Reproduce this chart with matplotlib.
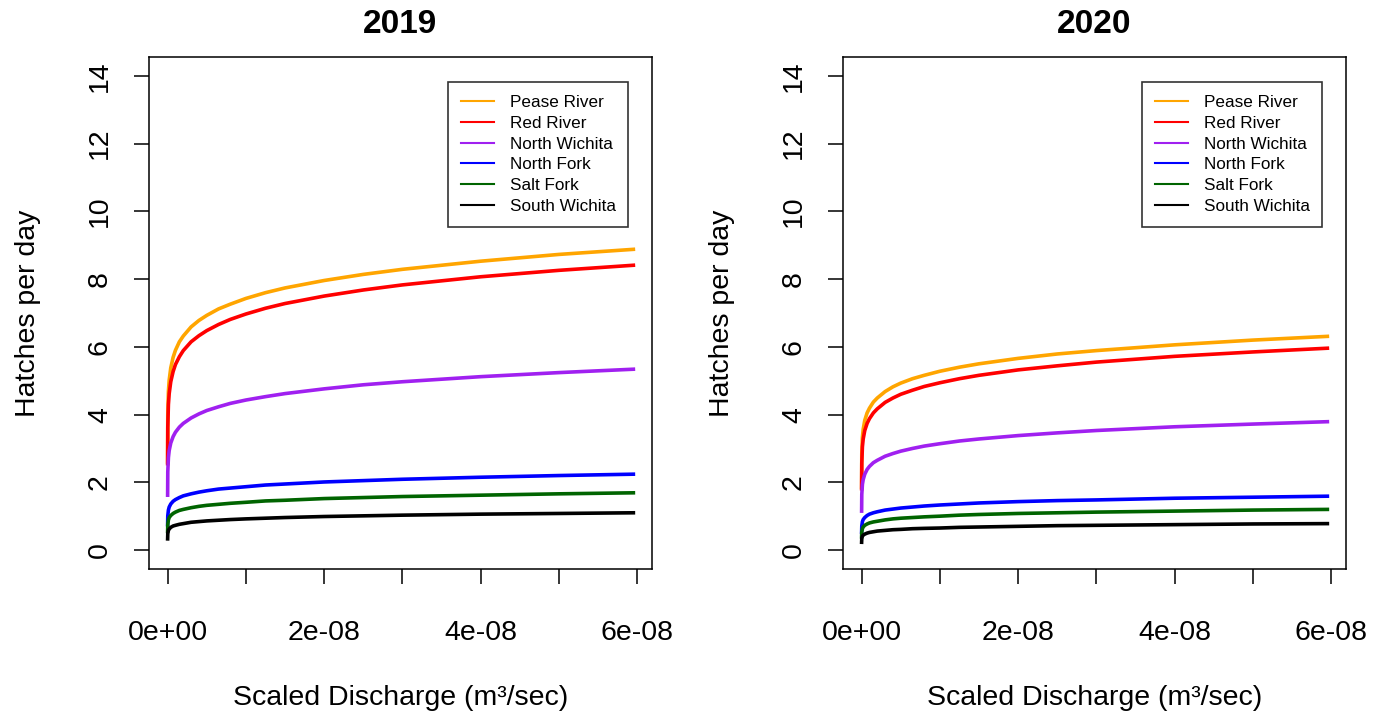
import numpy as np
import matplotlib
matplotlib.use("Agg")
import matplotlib.pyplot as plt
from matplotlib.lines import Line2D

plt.rcParams['font.family'] = ['Liberation Sans', 'DejaVu Sans']

# scaled discharge (x 1e-8 m3/sec)
discharge = np.array([0, 0.002, 0.01, 0.02, 0.04, 0.07, 0.1, 0.15, 0.2, 0.3, 0.4, 0.5,
                      0.65, 0.8, 1.0, 1.25, 1.5, 2, 2.5, 3, 4, 5, 5.95]) * 1e-8

rivers = ["Pease River", "Red River", "North Wichita", "North Fork", "Salt Fork", "South Wichita"]
colors = ["#FFA500", "#FF0000", "#A020F0", "#0000FF", "#006400", "#000000"]

pease_2019 = [2.60, 3.99, 4.69, 5.02, 5.38, 5.69, 5.90, 6.15, 6.32, 6.59, 6.78, 6.93,
              7.12, 7.26, 7.43, 7.60, 7.74, 7.96, 8.14, 8.29, 8.53, 8.73, 8.88]
red_2019 = [2.55, 3.63, 4.30, 4.62, 4.97, 5.27, 5.48, 5.71, 5.89, 6.15, 6.33, 6.48,
            6.66, 6.81, 6.97, 7.14, 7.28, 7.50, 7.68, 7.83, 8.07, 8.26, 8.41]
nwichita_2019 = [1.62, 2.31, 2.73, 2.94, 3.16, 3.35, 3.48, 3.63, 3.74, 3.90, 4.02, 4.12,
                 4.23, 4.33, 4.43, 4.53, 4.62, 4.76, 4.88, 4.97, 5.12, 5.24, 5.34]
nfork_2019 = [0.75, 1.01, 1.18, 1.27, 1.36, 1.44, 1.49, 1.55, 1.60, 1.66, 1.71, 1.75,
              1.80, 1.83, 1.87, 1.92, 1.95, 2.01, 2.05, 2.09, 2.15, 2.20, 2.24]
salt_2019 = [0.55, 0.76, 0.89, 0.96, 1.02, 1.08, 1.12, 1.17, 1.20, 1.25, 1.29, 1.32,
             1.35, 1.38, 1.41, 1.45, 1.47, 1.52, 1.55, 1.58, 1.62, 1.66, 1.69]
swichita_2019 = [0.33, 0.49, 0.58, 0.62, 0.67, 0.71, 0.73, 0.76, 0.78, 0.82, 0.84, 0.86,
                 0.88, 0.90, 0.92, 0.94, 0.96, 0.99, 1.01, 1.03, 1.06, 1.08, 1.10]

pease_2020 = [1.85, 2.84, 3.33, 3.57, 3.83, 4.05, 4.19, 4.37, 4.49, 4.68, 4.82, 4.93,
              5.06, 5.16, 5.28, 5.40, 5.50, 5.66, 5.79, 5.89, 6.06, 6.20, 6.31]
red_2020 = [1.81, 2.57, 3.05, 3.28, 3.53, 3.74, 3.88, 4.05, 4.17, 4.36, 4.49, 4.60,
            4.72, 4.83, 4.94, 5.06, 5.16, 5.32, 5.44, 5.55, 5.72, 5.85, 5.96]
nwichita_2020 = [1.15, 1.64, 1.94, 2.08, 2.24, 2.38, 2.47, 2.58, 2.65, 2.77, 2.85, 2.92,
                 3.00, 3.07, 3.14, 3.22, 3.28, 3.38, 3.46, 3.53, 3.64, 3.72, 3.79]
nfork_2020 = [0.53, 0.71, 0.84, 0.90, 0.96, 1.02, 1.06, 1.10, 1.13, 1.18, 1.21, 1.24,
              1.27, 1.30, 1.33, 1.36, 1.39, 1.43, 1.46, 1.48, 1.53, 1.56, 1.59]
salt_2020 = [0.39, 0.54, 0.63, 0.68, 0.73, 0.77, 0.80, 0.83, 0.85, 0.89, 0.92, 0.94,
             0.96, 0.98, 1.00, 1.03, 1.05, 1.08, 1.10, 1.12, 1.15, 1.18, 1.20]
swichita_2020 = [0.23, 0.35, 0.41, 0.44, 0.47, 0.50, 0.52, 0.54, 0.56, 0.58, 0.60, 0.61,
                 0.63, 0.64, 0.65, 0.67, 0.68, 0.70, 0.72, 0.73, 0.75, 0.77, 0.78]

panels = [
    ("2019", [pease_2019, red_2019, nwichita_2019, nfork_2019, salt_2019, swichita_2019]),
    ("2020", [pease_2020, red_2020, nwichita_2020, nfork_2020, salt_2020, swichita_2020]),
]

x_ticks = np.arange(0, 7) * 1e-8
x_ticklabels = ["0e+00", "", "2e-08", "", "4e-08", "", "6e-08"]
y_ticks = np.arange(0, 15, 2)

fig = plt.figure(figsize=(13.86, 7.13), dpi=100)
lefts = [149 / 1386, 843 / 1386]

for left, (year, series) in zip(lefts, panels):
    ax = fig.add_axes([left, 144 / 713, 503 / 1386, 512 / 713])
    for vals, col in zip(series, colors):
        ax.plot(discharge, vals, color=col, lw=2.6, solid_joinstyle='round')

    # R style: 4% padding on both axes
    ax.set_xlim(-0.04 * 5.95e-8, 5.95e-8 * 1.04)
    ax.set_ylim(-0.56, 14.56)

    ax.set_xticks(x_ticks)
    ax.set_xticklabels(x_ticklabels)
    ax.set_yticks(y_ticks)
    ax.set_yticklabels([str(v) for v in y_ticks], rotation=90, va='center')
    ax.tick_params(axis='x', length=11, width=1.1, labelsize=20.5, pad=26)
    ax.tick_params(axis='y', length=11, width=1.1, labelsize=20.5, pad=15)
    for s in ax.spines.values():
        s.set_linewidth(1.1)

    ax.set_xlabel("Scaled Discharge (m³/sec)", fontsize=20.5)
    ax.xaxis.set_label_coords(0.5, -0.226)
    ax.set_ylabel("Hatches per day", fontsize=20.5)
    ax.yaxis.set_label_coords(-0.215, 0.5)
    ax.text(0.5, 1.064, year, transform=ax.transAxes, ha='center', va='center',
            fontsize=24, fontweight='bold')

    handles = [Line2D([0], [0], color=c, lw=1.5) for c in colors]
    leg = ax.legend(handles, rivers, loc='upper right', bbox_to_anchor=(0.953, 0.951),
                    fontsize=12.3, frameon=True, fancybox=False, borderpad=0.75,
                    handlelength=1.95, handletextpad=0.9, labelspacing=0.34,
                    borderaxespad=0)
    leg.get_frame().set_edgecolor('black')
    leg.get_frame().set_linewidth(1.2)

fig.savefig("out.png", dpi=100)
